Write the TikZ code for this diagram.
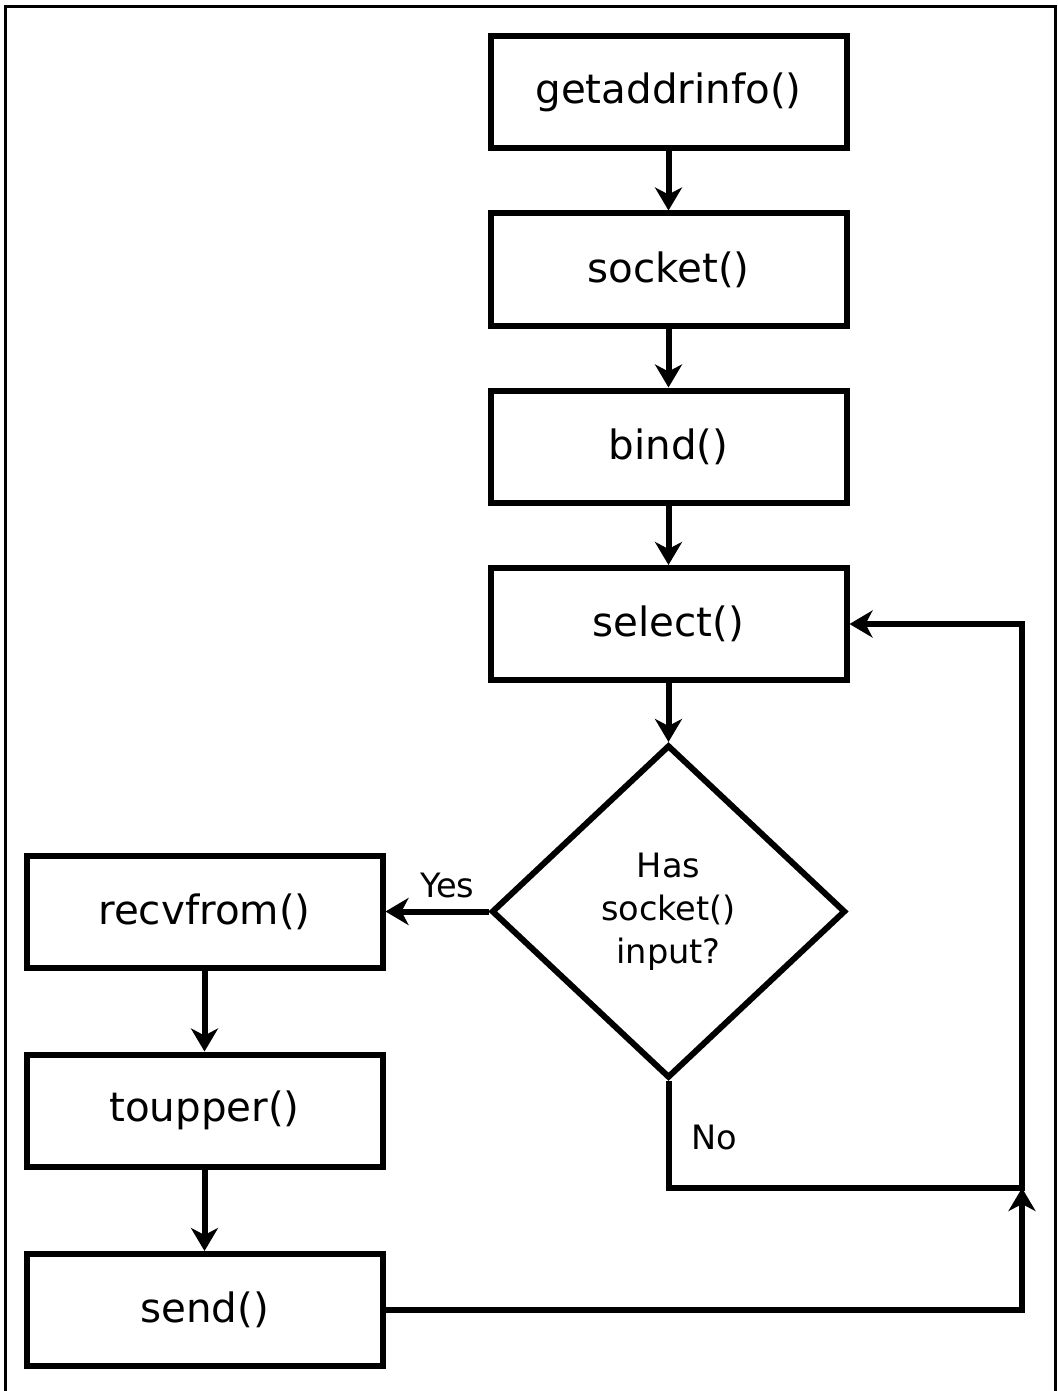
\documentclass[tikz,border=0pt]{standalone}
\usepackage{fontspec}
\setmainfont{DejaVu Sans}
\usetikzlibrary{shapes.geometric,arrows.meta}
\tikzset{
  tip/.tip={Stealth[length=11.5pt,width=13.5pt,inset=3.5pt]},
  box/.style={draw, line width=3pt, rectangle, minimum width=178pt, minimum height=56pt, inner sep=0pt, font=\fontsize{20.2}{24}\selectfont},
  dec/.style={draw, line width=3pt, diamond, minimum width=177pt, minimum height=166.5pt, inner sep=0pt, align=center, font=\fontsize{16.8}{21.5}\selectfont},
  lab/.style={inner sep=0pt, font=\fontsize{16.8}{20}\selectfont},
  arr/.style={line width=3pt, -tip},
  frame/.style={line width=1.3pt}
}
\begin{document}
\begin{tikzpicture}[x=0.5pt,y=-0.5pt]
\useasboundingbox (0,0) rectangle (1058,1391);
\draw[frame] (5.5,1395) -- (5.5,6.5) -- (1055.5,6.5) -- (1055.5,1395);
\node[box] (g) at (668.5,92.5) {getaddrinfo()};
\node[box] (s) at (668.5,269.5) {socket()};
\node[box] (b) at (668.5,446.5) {bind()};
\node[box] (sel) at (668.5,624) {select()};
\node[dec] (d) at (668.5,911.5) {Has\\socket()\\input?};
\node[box] (r) at (204.5,911.5) {recvfrom()};
\node[box] (t) at (204.5,1110.5) {toupper()};
\node[box] (se) at (204.5,1310) {send()};
\coordinate (j) at (1022,1188);
\draw[arr] (g) -- (s);
\draw[arr] (s) -- (b);
\draw[arr] (b) -- (sel);
\draw[arr] (sel) -- (d);
\draw[arr] (d.west) -- node[lab, pos=0.4, yshift=13pt] {Yes} (r.east);
\draw[arr] (r) -- (t);
\draw[arr] (t) -- (se);
\draw[arr] (d.south) |- (j) |- (sel.east);
\node[lab] (no) at (714,1137) {No};
\draw[arr] (se.east) -| (j);
\end{tikzpicture}
\end{document}
